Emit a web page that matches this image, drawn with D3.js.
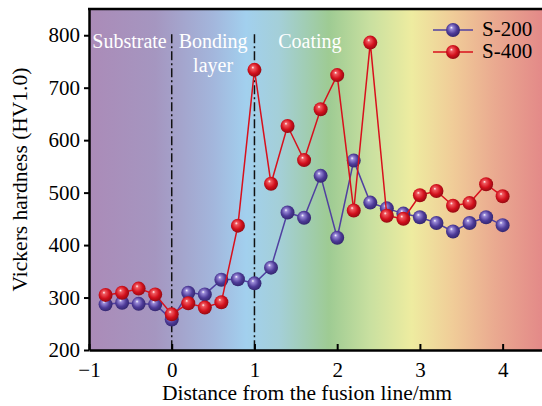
<!DOCTYPE html>
<html>
<head>
<meta charset="utf-8">
<script src="https://cdn.jsdelivr.net/npm/d3@7"></script>
<style>
  body { margin: 0; background: #fff; }
  text { font-family: "Liberation Serif", "Times New Roman", serif; }
</style>
</head>
<body>
<svg id="chart" width="542" height="406"></svg>
<script>
// distance from fusion line (mm)
var distance = [-0.8, -0.6, -0.4, -0.2, 0, 0.2, 0.4, 0.6, 0.8, 1.0, 1.2, 1.4, 1.6, 1.8, 2.0, 2.2, 2.4, 2.6, 2.8, 3.0, 3.2, 3.4, 3.6, 3.8, 4.0];
var s200 = [287, 290, 288, 287, 258, 309, 306, 334, 335, 327, 357, 462, 452, 532, 414, 561, 481, 470, 460, 453, 442, 426, 442, 453, 438];
var s400 = [305, 309, 317, 306, 268, 289, 281, 291, 437, 734, 517, 627, 562, 659, 724, 466, 786, 456, 450, 495, 503, 475, 480, 516, 493];
var seriesNames = ["S-200", "S-400"];
var xTicks = [-1, 0, 1, 2, 3, 4];
var yTicks = [200, 300, 400, 500, 600, 700, 800];
var zoneLines = [0, 1];

var svg = d3.select("#chart");
var margin = { top: 9, right: -2, bottom: 56, left: 89 };
var width = 542, height = 406;

var x = d3.scaleLinear().domain([-1, 4.5]).range([margin.left, width - margin.right]);
var y = d3.scaleLinear().domain([200, 850]).range([height - margin.bottom, margin.top]);

var defs = svg.append("defs");

// background gradient
var bg = defs.append("linearGradient").attr("id", "bg")
  .attr("gradientUnits", "userSpaceOnUse")
  .attr("x1", x(-1)).attr("x2", x(4.5)).attr("y1", 0).attr("y2", 0);
[[-1, "#ab8bb8"], [-0.2, "#a596c0"], [0.5, "#a3b6dc"], [0.9, "#a2d0ee"], [1.3, "#a4cfd8"],
 [1.9, "#9ecb93"], [2.4, "#c9e0a0"], [2.9, "#eeeca0"], [3.4, "#f0cc98"], [3.9, "#eaaa90"], [4.5, "#e38888"]]
  .forEach(function (s) {
    bg.append("stop").attr("offset", (s[0] + 1) / 5.5).attr("stop-color", s[1]);
  });

function ball(id, light, base, dark) {
  var g = defs.append("radialGradient").attr("id", id)
    .attr("cx", "45%").attr("cy", "45%").attr("r", "60%")
    .attr("fx", "38%").attr("fy", "32%");
  g.append("stop").attr("offset", "0%").attr("stop-color", "#ffffff");
  g.append("stop").attr("offset", "18%").attr("stop-color", light);
  g.append("stop").attr("offset", "60%").attr("stop-color", base);
  g.append("stop").attr("offset", "100%").attr("stop-color", dark);
}
ball("ballP", "#9a8ad8", "#4e3b98", "#2e2268");
ball("ballR", "#f05a60", "#d2101c", "#8a0810");

svg.append("rect")
  .attr("x", x(-1)).attr("y", y(850))
  .attr("width", x(4.5) - x(-1)).attr("height", y(200) - y(850))
  .attr("fill", "url(#bg)");

// zone separators
svg.selectAll(".zone").data(zoneLines).join("line")
  .attr("x1", function (d) { return x(d); }).attr("x2", function (d) { return x(d); })
  .attr("y1", y(802)).attr("y2", y(200))
  .attr("stroke", "#111").attr("stroke-width", 1.5)
  .attr("stroke-dasharray", "9,3,2,3");

// zone labels
var labels = [
  { t: "Substrate", x: -0.51, v: 785 },
  { t: "Bonding", x: 0.5, v: 785 },
  { t: "layer", x: 0.5, v: 739 },
  { t: "Coating", x: 1.67, v: 785 }
];
svg.selectAll(".zl").data(labels).join("text")
  .attr("x", function (d) { return x(d.x); })
  .attr("y", function (d) { return y(d.v); })
  .attr("text-anchor", "middle")
  .attr("dominant-baseline", "middle")
  .attr("font-size", 20).attr("fill", "#fff")
  .text(function (d) { return d.t; });

// series
var series = [
  { name: seriesNames[0], values: s200, color: "#5040a0", fill: "url(#ballP)" },
  { name: seriesNames[1], values: s400, color: "#d8101c", fill: "url(#ballR)" }
];
var line = d3.line().x(function (d) { return x(d[0]); }).y(function (d) { return y(d[1]); });

series.forEach(function (s) {
  var pts = distance.map(function (d, i) { return [d, s.values[i]]; });
  svg.append("path").datum(pts)
    .attr("d", line).attr("fill", "none")
    .attr("stroke", s.color).attr("stroke-width", 1.5);
  svg.append("g").selectAll("circle").data(pts).join("circle")
    .attr("cx", function (d) { return x(d[0]); })
    .attr("cy", function (d) { return y(d[1]); })
    .attr("r", 7)
    .attr("fill", s.fill);
});

// axes
var xAxis = svg.append("g")
  .attr("transform", "translate(0," + y(200) + ")")
  .call(d3.axisBottom(x).tickValues(xTicks).tickSizeInner(-6).tickSizeOuter(0)
    .tickFormat(function (d) { return d < 0 ? "\u2212" + Math.abs(d) : d; }));
xAxis.select(".domain").attr("stroke-width", 2.5);
xAxis.selectAll(".tick line").attr("stroke-width", 2);
xAxis.selectAll("text").attr("font-size", 21).attr("dy", "1.15em")
  .attr("font-family", "Liberation Serif").attr("fill", "#000");

var yAxis = svg.append("g")
  .attr("transform", "translate(" + x(-1) + ",0)")
  .call(d3.axisLeft(y).tickValues(yTicks).tickSizeInner(5).tickSizeOuter(0));
yAxis.select(".domain").attr("stroke-width", 2.5);
yAxis.selectAll(".tick line").attr("stroke-width", 2);
yAxis.selectAll("text").attr("font-size", 21).attr("x", -9)
  .attr("font-family", "Liberation Serif").attr("fill", "#000");

// top frame
svg.append("line")
  .attr("x1", x(-1) - 1).attr("x2", width).attr("y1", y(850)).attr("y2", y(850))
  .attr("stroke", "#000").attr("stroke-width", 2.5);

// axis titles
svg.append("text")
  .attr("x", 307).attr("y", 400)
  .attr("text-anchor", "middle").attr("font-size", 21.5)
  .text("Distance from the fusion line/mm");
svg.append("text")
  .attr("transform", "translate(27," + y(525) + ") rotate(-90)")
  .attr("text-anchor", "middle").attr("font-size", 21.5)
  .text("Vickers hardness (HV1.0)");

// legend
var lg = svg.append("g").selectAll("g").data(series).join("g")
  .attr("transform", function (d, i) { return "translate(433," + (30 + i * 22) + ")"; });
lg.append("line").attr("x1", 0).attr("x2", 40).attr("y1", 0).attr("y2", 0)
  .attr("stroke", function (d) { return d.color; }).attr("stroke-width", 1.5);
lg.append("circle").attr("cx", 20).attr("cy", 0).attr("r", 7)
  .attr("fill", function (d) { return d.fill; });
lg.append("text").attr("x", 49).attr("y", 1).attr("dominant-baseline", "middle")
  .attr("font-size", 21).text(function (d) { return d.name; });
</script>
</body>
</html>
